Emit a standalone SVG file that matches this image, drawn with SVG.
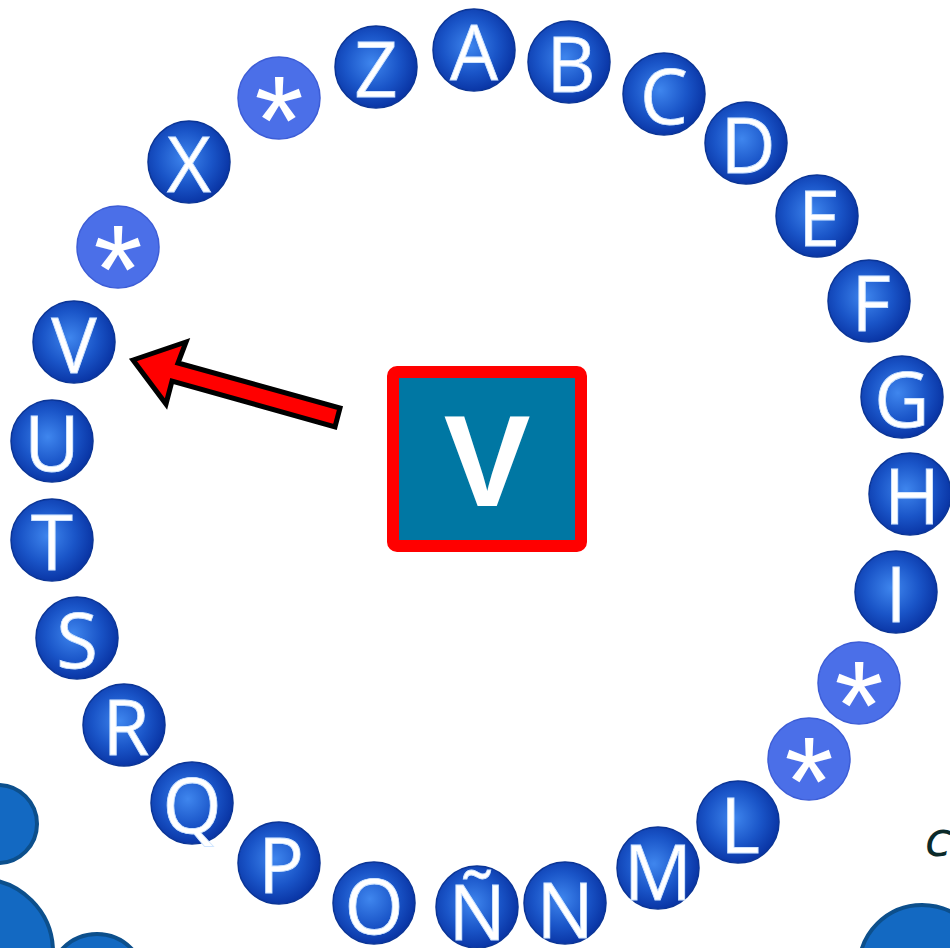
<svg xmlns="http://www.w3.org/2000/svg" width="950" height="948" viewBox="0 0 950 948">
<defs>
<radialGradient id="ball" cx="45%" cy="45%" r="55%">
<stop offset="0" stop-color="#3f86ee"/>
<stop offset="0.6" stop-color="#1a55c8"/>
<stop offset="1" stop-color="#0a36a6"/>
</radialGradient>
</defs>
<style>
.ball{fill:url(#ball);stroke:#0b3596;stroke-width:1.5}
.star{fill:#4b6fe8;stroke:#3d5dd6;stroke-width:1.5}
.lt{font-family:"Open Sans","Liberation Sans",sans-serif;font-size:76px;fill:#fff;stroke:#cfe5ff;stroke-width:0.8;text-anchor:middle}
.st{font-family:"Liberation Sans",Arial,sans-serif;font-size:126px;fill:#fff;text-anchor:middle}
.deco{fill:#1369c2;stroke:#0c4f8c;stroke-width:4}
</style>
<rect width="950" height="948" fill="#fff"/>
<g id="decor">
<circle class="deco" cx="-2" cy="824" r="39"/>
<circle class="deco" cx="-20" cy="952" r="73"/>
<circle class="deco" cx="97" cy="982" r="48"/>
<circle class="deco" cx="922" cy="968" r="63"/>
<text x="925" y="856" font-family="DejaVu Sans,sans-serif" font-style="italic" font-size="48" fill="#0b2a2a">c</text>
</g>
<g id="n-A"><circle class="ball" cx="474" cy="50" r="41"/><text class="lt" x="474" y="80">A</text></g>
<g id="n-B"><circle class="ball" cx="569" cy="62" r="41"/><text class="lt" x="571" y="92">B</text></g>
<g id="n-C"><circle class="ball" cx="664" cy="94" r="41"/><text class="lt" x="664" y="124">C</text></g>
<g id="n-D"><circle class="ball" cx="746" cy="143" r="41"/><text class="lt" x="748" y="173">D</text></g>
<g id="n-E"><circle class="ball" cx="817" cy="216" r="41"/><text class="lt" x="819" y="246">E</text></g>
<g id="n-F"><circle class="ball" cx="869" cy="301" r="41"/><text class="lt" x="871" y="331">F</text></g>
<g id="n-G"><circle class="ball" cx="902" cy="397" r="41"/><text class="lt" x="902" y="427">G</text></g>
<g id="n-H"><circle class="ball" cx="910" cy="494" r="41"/><text class="lt" x="912" y="524">H</text></g>
<g id="n-I"><circle class="ball" cx="896" cy="592" r="41"/><text class="lt" x="896" y="622">I</text></g>
<g id="n-star1"><circle class="star" cx="859" cy="683" r="41"/><text class="st" x="859" y="749">*</text></g>
<g id="n-star2"><circle class="star" cx="809" cy="759" r="41"/><text class="st" x="809" y="825">*</text></g>
<g id="n-L"><circle class="ball" cx="738" cy="822" r="41"/><text class="lt" x="740" y="853">L</text></g>
<g id="n-M"><circle class="ball" cx="658" cy="868" r="41"/><text class="lt" x="658" y="900">M</text></g>
<g id="n-N"><circle class="ball" cx="565" cy="903" r="41"/><text class="lt" x="565" y="938">N</text></g>
<g id="n-Ntilde"><circle class="ball" cx="477" cy="907" r="41"/><text class="lt" x="477" y="940">Ñ</text></g>
<g id="n-O"><circle class="ball" cx="374" cy="903" r="41"/><text class="lt" x="374" y="934">O</text></g>
<g id="n-P"><circle class="ball" cx="279" cy="863" r="41"/><text class="lt" x="281" y="893">P</text></g>
<g id="n-Q"><circle class="ball" cx="192" cy="803" r="41"/><text class="lt" x="192" y="833">Q</text></g>
<g id="n-R"><circle class="ball" cx="124" cy="725" r="41"/><text class="lt" x="126" y="755">R</text></g>
<g id="n-S"><circle class="ball" cx="77" cy="638" r="41"/><text class="lt" x="77" y="668">S</text></g>
<g id="n-T"><circle class="ball" cx="52" cy="540" r="41"/><text class="lt" x="52" y="570">T</text></g>
<g id="n-U"><circle class="ball" cx="52" cy="441" r="41"/><text class="lt" x="52" y="471">U</text></g>
<g id="n-V"><circle class="ball" cx="74" cy="342" r="41"/><text class="lt" x="74" y="373">V</text></g>
<g id="n-star3"><circle class="star" cx="118" cy="247" r="41"/><text class="st" x="118" y="313">*</text></g>
<g id="n-X"><circle class="ball" cx="189" cy="162" r="41"/><text class="lt" x="189" y="192">X</text></g>
<g id="n-star4"><circle class="star" cx="279" cy="98" r="41"/><text class="st" x="279" y="164">*</text></g>
<g id="n-Z"><circle class="ball" cx="376" cy="67" r="41"/><text class="lt" x="376" y="97">Z</text></g>
<g id="n-center">
<rect x="393" y="372" width="188" height="174" rx="4" fill="#0077a3" stroke="#ff0000" stroke-width="12"/>
<text x="487" y="506" font-family="Liberation Sans,Arial,sans-serif" font-weight="bold" font-size="130" fill="#fff" text-anchor="middle">V</text>
</g>
<g id="connectors">
<polygon points="133,360 186,342 178,363 340,408 335,427 172,381 166,404" fill="#ff0000" stroke="#000" stroke-width="5" stroke-linejoin="miter"/>
</g>
</svg>
